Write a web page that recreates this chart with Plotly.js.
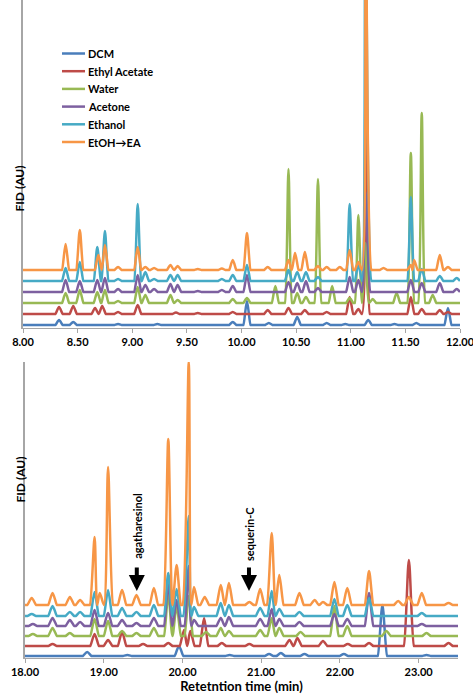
<!DOCTYPE html>
<html>
<head>
<meta charset="utf-8">
<script src="https://cdn.plot.ly/plotly-3.0.1.min.js"></script>
<style>html,body{margin:0;padding:0;background:#fff;}#chart{width:473px;height:695px;}</style>
</head>
<body>
<div id="chart"></div>
<script>
// ---- data (retention time in min, peak height in arbitrary FID units,
//      optional third value = peak half-width in min) ----
const seriesNames = ["DCM", "Ethyl Acetate", "Water", "Acetone", "Ethanol", "EtOH\u2192EA"];
const seriesColors = ["#4A7EBB", "#BE4B48", "#98B954", "#7D60A0", "#46AAC5", "#F79646"];

// vertical stacking offsets of each trace (FID units)
const topOffsets = [3, 14, 25, 36, 47, 58];
const bottomOffsets = [2, 12, 22, 32, 42, 53];

// top panel: 8.00 - 12.00 min
const topDCM = [[8.33,5],[8.46,3],[8.87,1],[9.23,1],[9.92,3],[10.05,24],[10.25,2],[10.51,8],[10.78,2],[10.95,1],[11.16,5],[11.40,1],[11.60,2],[11.89,17]];
const topEthylAcetate = [[8.33,7],[8.46,8],[8.66,6],[8.725,8],[8.87,2],[9.05,9],[9.40,1.5],[9.60,1],[9.92,2],[10.24,4],[10.43,6],[10.58,4],[10.78,2],[10.99,17],[11.07,5],[11.135,210,0.04],[11.55,17],[11.65,5],[11.815,4],[11.89,2]];
const topWater = [[8.39,10],[8.52,13],[8.68,11],[8.75,13],[8.87,2],[9.05,16],[9.12,8],[9.35,8],[9.415,3],[9.92,4],[10.05,5],[10.31,17],[10.43,134],[10.51,10],[10.59,6],[10.70,124],[10.83,17],[10.99,5],[11.07,88],[11.135,60,0.04],[11.20,4],[11.42,10],[11.55,150],[11.65,190],[11.75,8]];
const topAcetone = [[8.39,12],[8.52,11],[8.68,12],[8.75,14],[8.87,3],[9.05,17],[9.12,7],[9.20,3],[9.35,8],[9.415,7],[9.60,1],[9.82,2],[9.92,6],[10.05,17],[10.43,10],[10.51,9],[10.59,11],[10.70,4],[10.99,15],[11.07,12],[11.135,100,0.045],[11.55,12],[11.65,9],[11.815,9],[11.97,3]];
const topEthanol = [[8.39,13],[8.52,19],[8.68,34],[8.75,50],[8.87,2],[9.05,77],[9.12,9],[9.20,2],[9.35,6],[9.415,6],[9.82,2],[9.92,6],[10.05,16],[10.43,11],[10.51,9],[10.59,9],[10.70,4],[10.99,77],[11.07,17],[11.135,400,0.055],[11.55,84],[11.65,12],[11.815,5],[11.97,3]];
const topEtOHEA = [[8.39,26],[8.52,40],[8.69,15],[8.75,25],[8.87,3],[9.05,23],[9.12,3],[9.20,2],[9.35,5],[9.415,4],[9.60,1],[9.82,1.5],[9.92,10],[10.05,37],[10.24,3],[10.43,10],[10.49,17],[10.58,18],[10.70,4],[10.78,3],[10.90,3],[10.99,20],[11.07,8],[11.135,400,0.055],[11.30,2],[11.55,5],[11.58,10],[11.815,15],[11.89,3]];

// bottom panel: 18.00 - 23.50 min
const botDCM = [[18.79,4],[19.30,1],[19.956,10],[20.60,1],[21.10,2],[21.25,3],[21.55,2],[22.05,2],[22.54,51,0.06],[23.10,1]];
const botEthylAcetate = [[18.35,2],[18.884,12],[19.055,6],[19.233,14],[19.50,2],[19.82,3],[20.02,16],[20.10,15],[20.275,28],[20.50,3],[20.85,2],[21.36,6],[21.46,8],[21.785,5],[22.10,2],[22.37,3],[22.876,86,0.065],[23.38,3]];
const botWater = [[18.10,2],[18.35,8],[18.57,3],[18.884,17],[19.055,15],[19.233,5],[19.416,3],[19.637,8],[19.82,42],[19.926,30],[20.08,40],[20.30,4],[20.487,8],[20.59,5],[20.987,6],[21.134,18],[21.23,8],[21.50,4],[21.93,30],[22.094,10],[22.59,5],[23.10,3]];
const botAcetone = [[18.10,2],[18.35,8],[18.57,6],[18.70,4],[18.884,16],[19.055,13],[19.233,6],[19.416,3],[19.637,8],[19.82,43],[19.926,26],[20.08,60],[20.147,6],[20.487,8],[20.59,9],[20.987,7],[21.134,17],[21.23,7],[21.486,4],[21.93,12],[22.094,7],[22.37,33],[23.04,2]];
const botEthanol = [[18.085,2],[18.35,10],[18.57,4],[18.70,4],[18.884,24],[19.055,26],[19.233,8],[19.416,4],[19.637,11],[19.82,43],[19.926,27],[20.08,100,0.07],[20.147,9],[20.487,13],[20.59,11],[20.987,8],[21.134,25],[21.23,7],[21.486,4],[21.93,17],[22.094,11],[22.37,18],[23.04,3]];
const botEtOHEA = [[18.085,7],[18.35,12],[18.57,8],[18.70,5],[18.884,68,0.06],[18.95,12],[19.055,138,0.065],[19.233,15],[19.416,10],[19.637,17],[19.82,166,0.065],[19.926,40],[20.08,243,0.08],[20.147,18],[20.283,8],[20.487,20],[20.59,22],[20.85,3],[20.987,16],[21.134,72,0.062],[21.23,30],[21.486,12],[21.68,5],[21.785,3],[21.93,23],[22.094,17],[22.37,34],[22.74,4],[22.876,8],[23.04,12],[23.38,2]];

const topTickVals = [8.0, 8.5, 9.0, 9.5, 10.0, 10.5, 11.0, 11.5, 12.0];
const bottomTickVals = [18, 19, 20, 21, 22, 23];
const compoundLabels = ["agatharesinol", "sequerin-C"];
const compoundTimes = [19.42, 20.845];

const topPeaks = [topDCM, topEthylAcetate, topWater, topAcetone, topEthanol, topEtOHEA];
const botPeaks = [botDCM, botEthylAcetate, botWater, botAcetone, botEthanol, botEtOHEA];

// build a polyline for a chromatogram from its peak list (baseline - apex - baseline per peak)
function chromatogram(peaks, start, end, hwDefault, offset) {
  const xs = [start], ys = [offset];
  const w = p => (p[2] !== undefined ? p[2] : hwDefault);
  for (let i = 0; i < peaks.length; i++) {
    const t = peaks[i][0], h = peaks[i][1], hw = w(peaks[i]);
    const g = hw * 0.15; // guard point keeps the spline from dipping under the baseline
    const prev = i > 0 ? peaks[i-1][0] + w(peaks[i-1]) : start;
    if (t - hw > prev) {
      if (t - hw - g > prev) { xs.push(t - hw - g); ys.push(offset); }
      xs.push(t - hw); ys.push(offset);
    } else if (i > 0) { xs.push((peaks[i-1][0] + t) / 2); ys.push(offset); }
    xs.push(t); ys.push(offset + h);
    const next = i < peaks.length - 1 ? peaks[i+1][0] - w(peaks[i+1]) : end;
    if (t + hw < next) {
      xs.push(t + hw); ys.push(offset);
      if (t + hw + g < next) { xs.push(t + hw + g); ys.push(offset); }
    }
  }
  xs.push(end); ys.push(offset);
  return {xs, ys};
}

const FONT = "Lato, 'Open Sans', Arial, sans-serif";
const traces = [];
for (let i = 0; i < seriesNames.length; i++) {
  const c = chromatogram(topPeaks[i], 8, 12, 0.033, topOffsets[i]);
  traces.push({x: c.xs, y: c.ys, type: "scatter", mode: "lines", name: seriesNames[i],
    line: {color: seriesColors[i], width: 2.5, shape: "spline", smoothing: 0.8}, xaxis: "x", yaxis: "y"});
}
for (let i = 0; i < seriesNames.length; i++) {
  const c = chromatogram(botPeaks[i], 18, 23.5, 0.055, bottomOffsets[i]);
  traces.push({x: c.xs, y: c.ys, type: "scatter", mode: "lines", name: seriesNames[i],
    line: {color: seriesColors[i], width: 2.5, shape: "spline", smoothing: 0.8}, xaxis: "x2", yaxis: "y2"});
}

const axisGray = "#a6a6a6";
const tickFont = {family: FONT, size: 11, color: "#000", weight: "bold"};
const annotations = [
  {text: "FID (AU)", xref: "paper", yref: "paper", x: 10/473, y: 1 - 164/695, textangle: -90,
   showarrow: false, font: {family: FONT, size: 12, color: "#000", weight: "bold"}},
  {text: "FID (AU)", xref: "paper", yref: "paper", x: 10/473, y: 1 - 505/695, textangle: -90,
   showarrow: false, font: {family: FONT, size: 12, color: "#000", weight: "bold"}}
];
const labelY = [132, 124];
for (let k = 0; k < compoundLabels.length; k++) {
  annotations.push({text: compoundLabels[k], xref: "x2", yref: "y2", x: compoundTimes[k], y: labelY[k],
    textangle: -90, showarrow: false, font: {family: FONT, size: 11, color: "#000", weight: "bold"}});
  annotations.push({text: "", xref: "x2", yref: "y2", x: compoundTimes[k], y: 67, ax: 0, ay: -25,
    showarrow: true, arrowhead: 2, arrowsize: 0.8, arrowwidth: 4, arrowcolor: "#000"});
}

// legend (drawn as line samples + labels, Excel style)
const shapes = [];
for (let i = 0; i < seriesNames.length; i++) {
  const yy = 1 - (53.5 + i * 17.7) / 695;
  shapes.push({type: "line", xref: "paper", yref: "paper", x0: 62/473, x1: 85/473, y0: yy, y1: yy,
    line: {color: seriesColors[i], width: 2.5}});
  annotations.push({text: seriesNames[i], xref: "paper", yref: "paper", x: 86/473, y: yy,
    xanchor: "left", yanchor: "middle", showarrow: false,
    font: {family: FONT, size: 11, color: "#000", weight: "bold"}});
}

const layout = {
  width: 473, height: 695,
  margin: {l: 0, r: 0, t: 0, b: 0},
  paper_bgcolor: "#fff", plot_bgcolor: "rgba(0,0,0,0)",
  showlegend: false,
  xaxis: {domain: [23/473, 460/473], range: [8, 12], anchor: "y", tickvals: topTickVals,
    tickformat: ".2f", tickfont: tickFont, ticklabeloverflow: "allow", showline: true, linecolor: axisGray, linewidth: 1,
    ticks: "outside", ticklen: 4, tickcolor: axisGray, showgrid: false, zeroline: false},
  yaxis: {domain: [1 - 328/695, 1], range: [0, 328], anchor: "x", showticklabels: false,
    showline: true, linecolor: axisGray, linewidth: 2, ticks: "", showgrid: false, zeroline: false},
  xaxis2: {domain: [25/473, 458/473], range: [18, 23.5], anchor: "y2", tickvals: bottomTickVals,
    tickformat: ".2f", tickfont: tickFont, ticklabeloverflow: "allow", showline: true, linecolor: axisGray, linewidth: 1,
    ticks: "outside", ticklen: 4, tickcolor: axisGray, showgrid: false, zeroline: false,
    title: {text: "Retetntion time (min)", font: {family: FONT, size: 13, color: "#000", weight: "bold"}, standoff: 2}},
  yaxis2: {domain: [1 - 658/695, 1 - 362/695], range: [0, 296], anchor: "x2", showticklabels: false,
    showline: true, linecolor: axisGray, linewidth: 2, ticks: "", showgrid: false, zeroline: false},
  shapes: shapes,
  annotations: annotations
};

Plotly.newPlot("chart", traces, layout, {displayModeBar: false, staticPlot: true});
</script>
</body>
</html>
